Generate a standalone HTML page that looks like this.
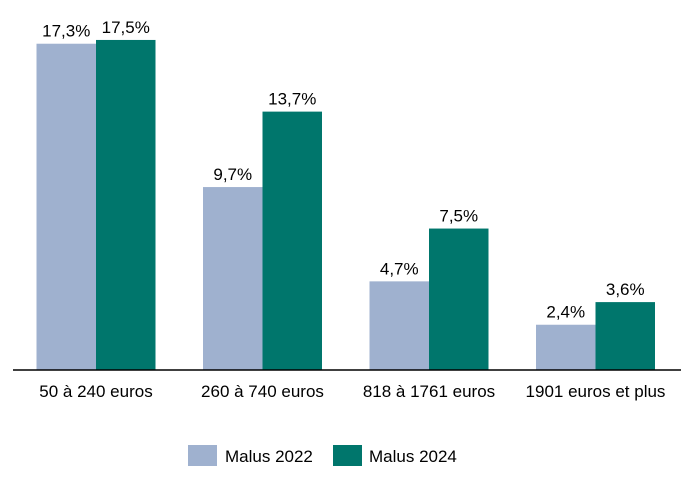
<!DOCTYPE html>
<html><head><meta charset="utf-8"><style>
body{margin:0;background:#fff;}
svg text{font-family:"Liberation Sans",sans-serif;font-size:17px;fill:#000;}
</style></head><body>
<svg id="chart" width="694" height="478">
<g id="bars"></g>
<line x1="13" y1="370" x2="681" y2="370" stroke="#000" stroke-width="1.5"/>
<g>
<rect x="188" y="445" width="29" height="21" fill="#9FB1CF"/>
<text x="225" y="462">Malus 2022</text>
<rect x="333" y="445" width="29" height="21" fill="#00766C"/>
<text x="369" y="462">Malus 2024</text>
</g>
</svg>
<script>
const categories=["50 à 240 euros","260 à 740 euros","818 à 1761 euros","1901 euros et plus"];
const malus2022=[17.3,9.7,4.7,2.4];
const malus2024=[17.5,13.7,7.5,3.6];
const ns="http://www.w3.org/2000/svg";
const g=document.getElementById('bars');
const base=370,ppu=18.86,x0=13,gw=166.5,bw=59.5;
const y=v=>base-v*ppu;
function lbl(v){return v.toFixed(1).replace('.',',')+'%';}
categories.forEach((c,i)=>{
  const gx=x0+i*gw+23.5;
  [[malus2022,'#9FB1CF','2022'],[malus2024,'#00766C','2024']].forEach((s,j)=>{
    const v=s[0][i],bx=gx+j*bw;
    const r=document.createElementNS(ns,'rect');
    r.setAttribute('x',bx);r.setAttribute('y',y(v));r.setAttribute('width',bw);r.setAttribute('height',base-y(v));r.setAttribute('fill',s[1]);
    
    
    g.appendChild(r);
    const t=document.createElementNS(ns,'text');
    t.setAttribute('x',bx+bw/2);t.setAttribute('y',y(v)-7);t.setAttribute('text-anchor','middle');
    t.textContent=lbl(v);
    
    
    g.appendChild(t);
  });
  const t=document.createElementNS(ns,'text');
  t.setAttribute('x',gx+bw);t.setAttribute('y',397);t.setAttribute('text-anchor','middle');
  t.textContent=c;
  
  
  g.appendChild(t);
});
</script>
</body></html>
